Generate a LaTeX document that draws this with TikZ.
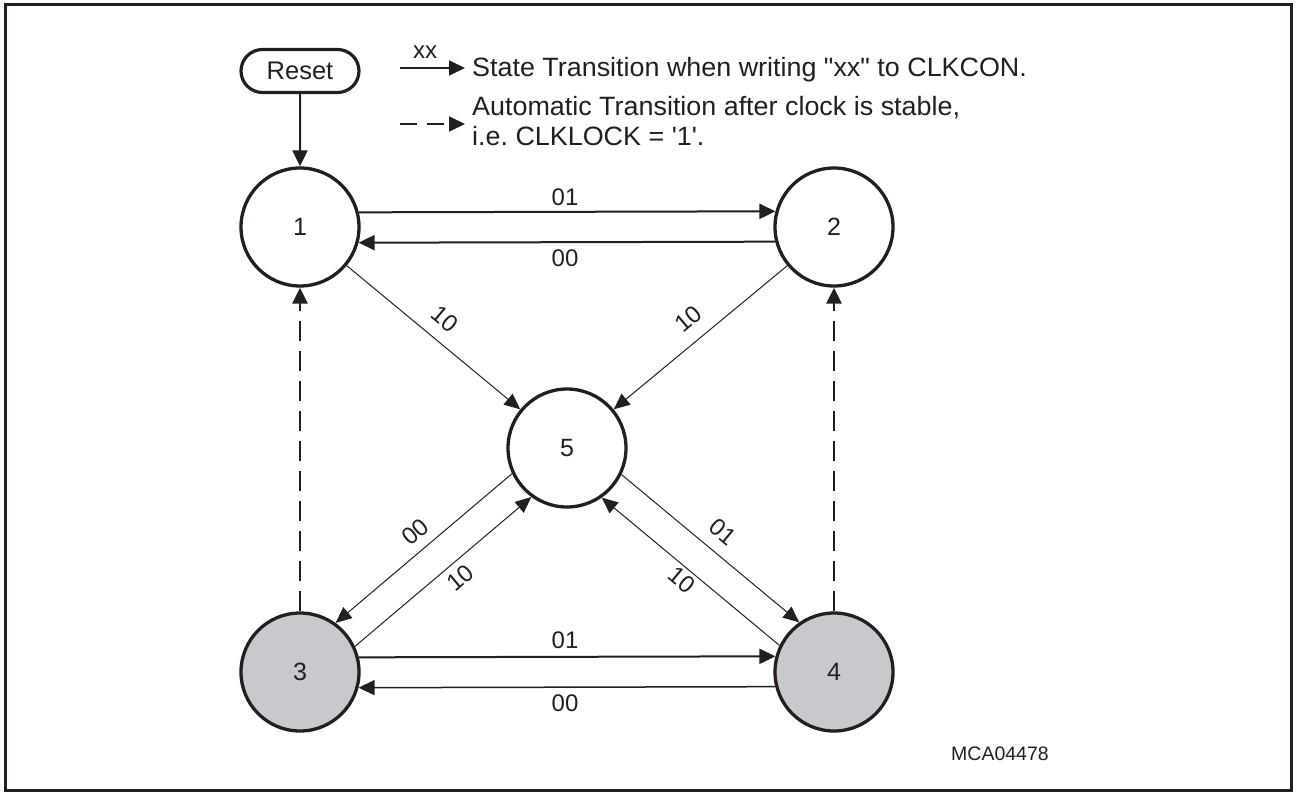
\documentclass[tikz,border=0pt]{standalone}
\usepackage{fontspec}
\setmainfont{Liberation Sans}
\newfontfamily\arialfont{Liberation Sans}
\usetikzlibrary{arrows.meta,shapes.misc}
\definecolor{ink}{RGB}{35,31,32}
\definecolor{stategray}{RGB}{200,201,204}
\frenchspacing
\begin{document}
\begin{tikzpicture}[x=1pt,y=-1pt,
  state/.style={circle, draw=ink, line width=3.3pt, minimum size=118pt, inner sep=0pt,
    font=\arialfont\fontsize{25}{30}\selectfont, text=ink},
  shadedstate/.style={state, fill=stategray},
  resetbox/.style={rounded rectangle, draw=ink, line width=3.2pt, minimum width=118pt,
    minimum height=43pt, inner sep=0pt, font=\arialfont\fontsize{25.5}{30}\selectfont, text=ink},
  trthick/.style={draw=ink, line width=2pt, -{Triangle[length=16pt,width=15pt]}},
  trmid/.style={draw=ink, line width=1.5pt, -{Triangle[length=16pt,width=15pt]}},
  trthin/.style={draw=ink, line width=1pt, -{Triangle[length=16pt,width=14pt]}},
  autotr/.style={draw=ink, line width=2.5pt, dash pattern=on 20pt off 10pt, -{Triangle[length=16pt,width=15pt]}},
  legtr/.style={draw=ink, line width=1.8pt, -{Triangle[length=16pt,width=15pt]}},
  legauto/.style={draw=ink, line width=1.8pt, dash pattern=on 17pt off 10pt, -{Triangle[length=16pt,width=15pt]}},
  lbl/.style={font=\arialfont\fontsize{24}{28}\selectfont, text=ink, inner sep=0pt},
  legtext/.style={font=\arialfont\fontsize{26.5}{30}\selectfont, text=ink, inner sep=0pt,
    anchor=base west, xscale=1.015},
]
\useasboundingbox (0,0) rectangle (1297,792);
\draw[ink, line width=3pt] (5.5,4.5) rectangle (1291,790);

% states
\node[resetbox] (reset) at (300,71) {Reset};
\node[state] (n1) at (300,227) {1};
\node[state] (n2) at (834,227) {2};
\node[state] (n5) at (567,448) {5};
\node[shadedstate] (n3) at (300,672) {3};
\node[shadedstate] (n4) at (834,672) {4};

% reset
\draw[trthick] (reset) -- (n1);

% horizontal transitions
\draw[trthick] (n1.14.3) -- (n2.165.7);
\draw[trthick] (n2.194.3) -- (n1.345.7);
\draw[trthick] (n3.14.3) -- (n4.165.7);
\draw[trmid] (n4.194.3) -- (n3.345.7);

% diagonal transitions
\draw[trthin] (n1) -- (n5);
\draw[trthin] (n2) -- (n5);
\draw[trthin] (n5.205.7) -- (n3.54.3);
\draw[trthin] (n3.25.7) -- (n5.234.3);
\draw[trthin] (n5.334.3) -- (n4.125.7);
\draw[trthin] (n4.154.3) -- (n5.305.7);

% automatic transitions
\draw[autotr] (n3) -- (n1);
\draw[autotr] (n4) -- (n2);

% labels
\node[lbl] (l12) at (565,197) {01};
\node[lbl] (l21) at (565,258) {00};
\node[lbl] (l34) at (565,640) {01};
\node[lbl] (l43) at (565,703) {00};
\node[lbl, rotate=-40] (l15) at (445,319) {10};
\node[lbl, rotate=40] (l25) at (688,319) {10};
\node[lbl, rotate=40] (l53) at (415,532) {00};
\node[lbl, rotate=40] (l35) at (460,578) {10};
\node[lbl, rotate=-40] (l54) at (723,532) {01};
\node[lbl, rotate=-40] (l45) at (682,580) {10};

% legend
\coordinate (la) at (400,68);
\coordinate (lb) at (465,68);
\draw[legtr] (la) -- (lb);
\node[lbl] (xxlbl) at (425,52) {xx};
\coordinate (lc) at (400,124);
\coordinate (ld) at (465,124);
\draw[legauto] (lc) -- (ld);
\node[legtext] (leg1) at (472,76) {State Transition when writing "xx" to CLKCON.};
\node[legtext] (leg2) at (472,115) {Automatic Transition after clock is stable,};
\node[legtext] (leg3) at (472,145) {i.e. CLKLOCK = '1'.};

\node[font=\arialfont\fontsize{19.5}{23}\selectfont, text=ink, inner sep=0pt, anchor=base west] (code) at (951,760) {MCA04478};
\end{tikzpicture}
\end{document}
